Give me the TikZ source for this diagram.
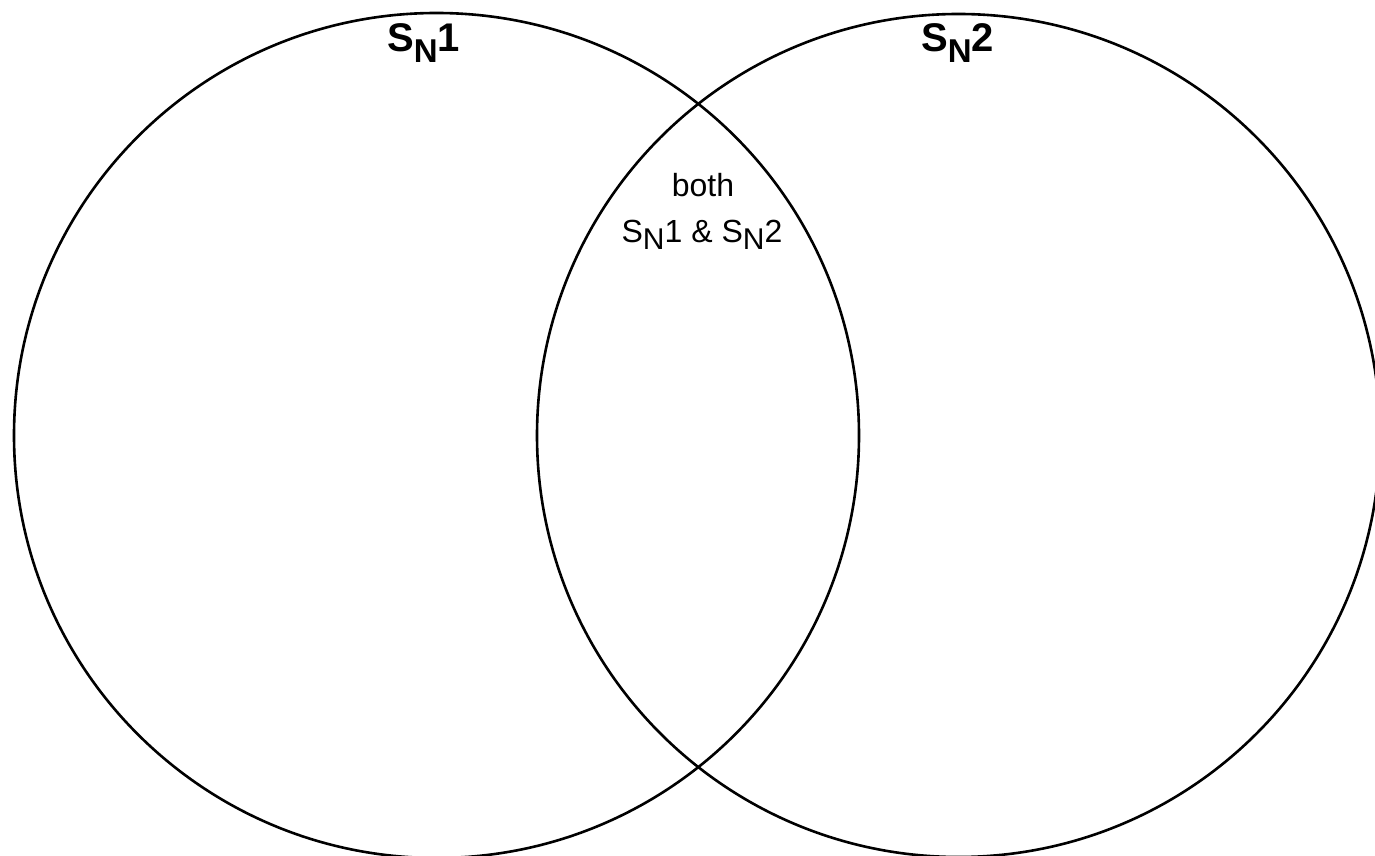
\documentclass[tikz,border=0pt]{standalone}
\usepackage{fontspec}
\setmainfont{Liberation Sans}
\newcommand{\titlesub}[3]{{\fontsize{40}{40}\selectfont\bfseries #1\raisebox{-11pt}{\fontsize{33}{33}\selectfont\bfseries #2}#3}}
\newcommand{\smsub}[1]{\raisebox{-7pt}{\fontsize{30}{30}\selectfont #1}}
\tikzset{
  setcircle/.style={draw=black, line width=2.6pt},
  titlelabel/.style={anchor=base, inner sep=0pt},
  innerlabel/.style={anchor=base, inner sep=0pt, font=\fontsize{32}{32}\selectfont}
}
\begin{document}
\begin{tikzpicture}[x=1pt,y=1pt]
\useasboundingbox (0,0) rectangle (1375,856);
\fill[white] (0,0) rectangle (1375,856);
\node[setcircle, circle, minimum size=845pt, inner sep=0pt] (left) at (436.5,420.5) {};
\node[setcircle, circle, minimum size=843pt, inner sep=0pt] (right) at (958.5,420.5) {};
\node[titlelabel] (t1) at (423.5,804) {\titlesub{S}{N}{1}};
\node[titlelabel] (t2) at (957.5,804) {\titlesub{S}{N}{2}};
\node[innerlabel] (both) at (703,659) {both};
\node[innerlabel] (both2) at (702,613) {S\smsub{N}1 \& S\smsub{N}2};
\end{tikzpicture}
\end{document}
